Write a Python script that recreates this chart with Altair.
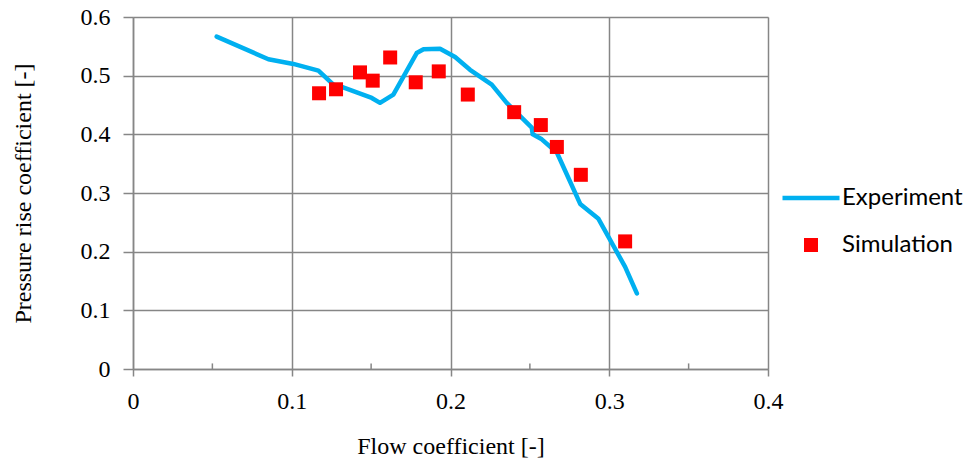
import altair as alt
import pandas as pd

# Experiment curve
exp_x = [0.0527, 0.0853, 0.101, 0.1168, 0.1262, 0.1315, 0.1504, 0.1556, 0.164, 0.1787, 0.183,
         0.1934, 0.2029, 0.2123, 0.226, 0.2354, 0.2512, 0.2518, 0.2575, 0.267, 0.2817, 0.2932,
         0.31, 0.3174]
exp_y = [0.5666, 0.528, 0.520, 0.5085, 0.4847, 0.481, 0.462, 0.4537, 0.4678, 0.5385, 0.545,
         0.546, 0.5317, 0.510, 0.4847, 0.4537, 0.4113, 0.400, 0.3915, 0.369, 0.2814, 0.256,
         0.174, 0.1288]

# Simulation points
sim_x = [0.1172, 0.1279, 0.143, 0.151, 0.162, 0.1781, 0.1926, 0.2109, 0.2401, 0.2569, 0.267,
         0.2821, 0.310]
sim_y = [0.470, 0.4768, 0.5056, 0.4915, 0.531, 0.4887, 0.5073, 0.4678, 0.4378, 0.4158, 0.3785,
         0.331, 0.2175]

# minor tick positions on the x axis
minor_x = [0.05, 0.15, 0.25, 0.35]

exp_df = pd.DataFrame({"x": exp_x, "y": exp_y, "series": ["Experiment"] * len(exp_x),
                       "order": list(range(len(exp_x)))})
sim_df = pd.DataFrame({"x": sim_x, "y": sim_y, "series": ["Simulation"] * len(sim_x)})
minor_df = pd.DataFrame({"x": minor_x, "y0": [0.0] * 4, "y1": [0.0095] * 4})

GRID = "#868686"
SERIF = "Liberation Serif"

xscale = alt.Scale(domain=[0, 0.4], nice=False)
yscale = alt.Scale(domain=[0, 0.6], nice=False)

xaxis = alt.Axis(values=[0, 0.1, 0.2, 0.3, 0.4], format="~g", title="Flow coefficient [-]",
                 labelFont=SERIF, labelFontSize=24, labelColor="black", labelPadding=13,
                 titleFont=SERIF, titleFontSize=24, titleFontWeight="normal", titleColor="black",
                 titleY=77, titleBaseline="middle", grid=True,
                 tickSize=7, tickColor=GRID, tickWidth=1.5, domainColor=GRID, domainWidth=1.5,
                 gridColor=GRID, gridWidth=1.5, gridOpacity=1, labelFlush=False)
yaxis = alt.Axis(values=[0, 0.1, 0.2, 0.3, 0.4, 0.5, 0.6], format="~g",
                 title="Pressure rise coefficient [-]", grid=True,
                 labelFont=SERIF, labelFontSize=24, labelColor="black", labelPadding=13,
                 titleFont=SERIF, titleFontSize=24, titleFontWeight="normal", titleColor="black",
                 titleX=-110, titleY=176, titleBaseline="middle",
                 tickSize=10, tickColor=GRID, tickWidth=1.5, domainColor=GRID, domainWidth=1.5,
                 gridColor=GRID, gridWidth=1.5, gridOpacity=1, labelFlush=False)

line = alt.Chart(exp_df).mark_line(strokeWidth=4.5, strokeCap="round", strokeJoin="round").encode(
    x=alt.X("x:Q", scale=xscale, axis=xaxis),
    y=alt.Y("y:Q", scale=yscale, axis=yaxis),
    order="order:Q",
    stroke=alt.Stroke("series:N", scale=alt.Scale(domain=["Experiment"], range=["#00B0F0"]),
                      legend=alt.Legend(title=None, orient="none", legendX=647, legendY=150,
                                        symbolType="stroke", symbolSize=3249,
                                        symbolStrokeWidth=4.5, labelFont="Lato",
                                        labelFontSize=24, labelColor="black", padding=0,
                                        labelOffset=0, symbolStrokeColor="#00B0F0")),
)

points = alt.Chart(sim_df).mark_square(size=196, opacity=1, filled=True).encode(
    x=alt.X("x:Q", scale=xscale, axis=xaxis),
    y=alt.Y("y:Q", scale=yscale, axis=yaxis),
    fill=alt.Fill("series:N", scale=alt.Scale(domain=["Simulation"], range=["#FF0000"]),
                  legend=alt.Legend(title=None, orient="none", legendX=647, legendY=216,
                                    symbolType="square", symbolSize=196, symbolOpacity=1,
                                    symbolStrokeWidth=0, symbolOffset=19, labelFont="Lato",
                                    labelFontSize=24, labelColor="black", padding=0,
                                    labelOffset=19)),
)

minor = alt.Chart(minor_df).mark_rule(color=GRID, strokeWidth=1.5).encode(
    x=alt.X("x:Q", scale=xscale, axis=xaxis),
    y=alt.Y("y0:Q", scale=yscale, axis=yaxis),
    y2="y1:Q",
)

chart = alt.layer(line, points, minor).properties(
    width=635, height=352,
    autosize=alt.AutoSizeParams(type="none"),
    padding={"left": 133, "top": 17, "right": 202, "bottom": 96},
).configure_view(stroke=None).configure(background="white")

chart.save("out.html", embed_options={"renderer": "svg", "actions": False})
